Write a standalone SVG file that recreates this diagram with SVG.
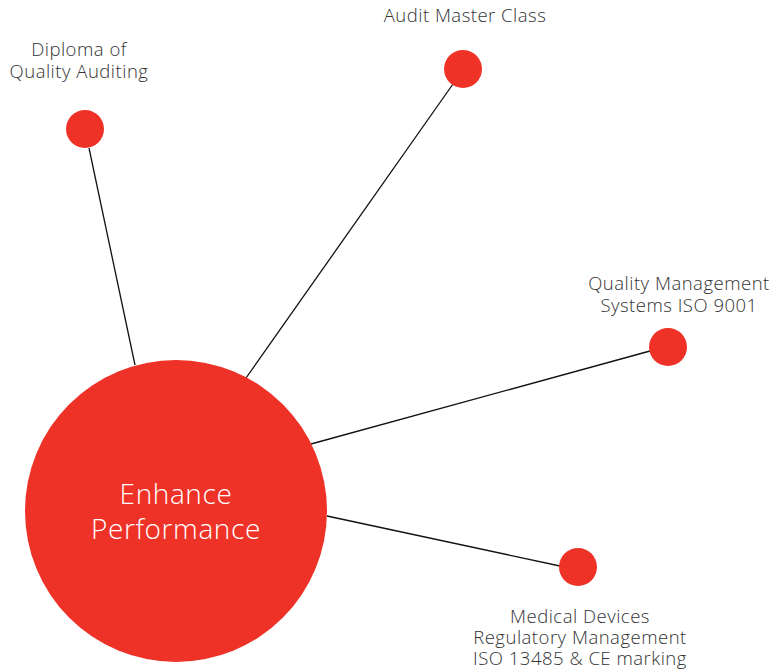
<svg xmlns="http://www.w3.org/2000/svg" width="777" height="669" viewBox="0 0 777 669">
<style>
.dot{fill:#EE3228}
.lbl{font-family:"Open Sans","Liberation Sans",sans-serif;font-weight:300;font-size:18.5px;letter-spacing:0.5px;fill:#333;text-anchor:middle}
.big{font-family:"Open Sans","Liberation Sans",sans-serif;font-weight:300;font-size:28px;letter-spacing:0.6px;fill:#fff;text-anchor:middle}
.con line{stroke:#111;stroke-width:1.3}
</style>
<rect width="777" height="669" fill="#fff"/>
<g id="connectors" class="con">
<line x1="89" y1="148" x2="135" y2="365"/>
<line x1="453" y1="84" x2="246" y2="378"/>
<line x1="650" y1="351" x2="311" y2="444"/>
<line x1="560" y1="566" x2="327" y2="516"/>
</g>
<g id="center">
<circle class="dot" cx="176" cy="511" r="151"/>
<text class="big" x="176" y="504">Enhance</text>
<text class="big" x="176" y="539">Performance</text>
</g>
<g id="diploma">
<circle class="dot" cx="85" cy="129" r="19"/>
<text class="lbl" x="79" y="56">Diploma of</text>
<text class="lbl" x="79" y="78">Quality Auditing</text>
</g>
<g id="audit">
<circle class="dot" cx="463" cy="69" r="19"/>
<text class="lbl" x="465" y="22">Audit Master Class</text>
</g>
<g id="qms">
<circle class="dot" cx="668" cy="347" r="19"/>
<text class="lbl" x="679" y="290">Quality Management</text>
<text class="lbl" x="679" y="312">Systems ISO 9001</text>
</g>
<g id="medical">
<circle class="dot" cx="578" cy="567" r="19"/>
<text class="lbl" x="580" y="623">Medical Devices</text>
<text class="lbl" x="580" y="644">Regulatory Management</text>
<text class="lbl" x="580" y="665">ISO 13485 &amp; CE marking</text>
</g>
</svg>
